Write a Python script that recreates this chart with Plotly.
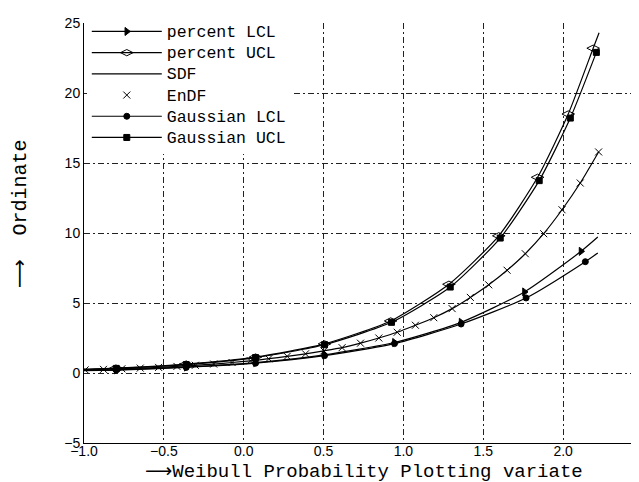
import plotly.graph_objects as go

# ---- data ----
endf_x = [-0.993, -0.878, -0.763, -0.648, -0.533, -0.418, -0.303, -0.188, -0.073,
          0.042, 0.157, 0.272, 0.387, 0.502, 0.616, 0.731, 0.846, 0.961, 1.075,
          1.190, 1.305, 1.419, 1.534, 1.649, 1.763, 1.878, 1.993, 2.107, 2.222]
endf_y = [0.22, 0.26, 0.30, 0.35, 0.40, 0.47, 0.55, 0.64, 0.75,
          0.87, 1.02, 1.19, 1.37, 1.58, 1.81, 2.13, 2.50, 2.91, 3.41,
          3.95, 4.60, 5.40, 6.30, 7.34, 8.52, 9.95, 11.66, 13.57, 15.79]

sdf_x = [-1.0] + endf_x[1:]
sdf_y = [0.21] + endf_y[1:]

pucl_x = [-1.0, -0.80, -0.36, 0.074, 0.506, 0.92, 1.285, 1.597, 1.84, 2.032, 2.188, 2.225]
pucl_y = [0.27, 0.35, 0.64, 1.14, 2.08, 3.72, 6.34, 9.80, 13.98, 18.50, 23.20, 24.30]
pucl_marked = [1, 2, 3, 4, 5, 6, 7, 8, 9, 10]

gucl_x = [-1.0, -0.798, -0.36, 0.074, 0.506, 0.925, 1.293, 1.606, 1.85, 2.045, 2.208]
gucl_y = [0.25, 0.33, 0.60, 1.10, 2.02, 3.62, 6.14, 9.64, 13.74, 18.21, 22.90]
gucl_marked = [1, 2, 3, 4, 5, 6, 7, 8, 9, 10]

plcl_x = [-1.0, -0.798, -0.36, 0.074, 0.506, 0.944, 1.361, 1.758, 2.112, 2.217]
plcl_y = [0.18, 0.23, 0.43, 0.74, 1.30, 2.18, 3.62, 5.79, 8.69, 9.71]
plcl_marked = [1, 2, 3, 4, 5, 6, 7, 8]

glcl_x = [-1.0, -0.798, -0.36, 0.074, 0.506, 0.944, 1.361, 1.768, 2.139, 2.217]
glcl_y = [0.16, 0.21, 0.40, 0.70, 1.24, 2.10, 3.50, 5.36, 7.95, 8.57]
glcl_marked = [1, 2, 3, 4, 5, 6, 7, 8]

x_ticks = [-1.0, -0.5, 0.0, 0.5, 1.0, 1.5, 2.0, 2.5]
y_ticks = [-5, 0, 5, 10, 15, 20, 25]

ARROW = '<span style="font-family:\'DejaVu Sans\'">\u27f6</span>'
x_title = ARROW + "Weibull Probability Plotting variate"
y_title = ARROW + "\u00a0 Ordinate"

MONO = "Liberation Mono, Courier New, monospace"
LINE = dict(color="black", width=1.2, shape="spline", smoothing=0.6)


def legend_name(text):
    return '<span style="font-size:16.5px">' + text + "</span>"


def series(name, xs, ys, marked, symbol, size):
    return go.Scatter(
        x=xs, y=ys, name=legend_name(name), mode="lines+markers", line=LINE,
        marker=dict(symbol=symbol, size=size, color="black",
                    line=dict(color="black", width=1)),
        selectedpoints=marked,
        selected=dict(marker=dict(opacity=1)),
        unselected=dict(marker=dict(opacity=0)),
    )


fig = go.Figure()
fig.add_trace(series("percent LCL", plcl_x, plcl_y, plcl_marked, "triangle-right", 7))
fig.add_trace(series("percent UCL", pucl_x, pucl_y, pucl_marked, "diamond-wide-open", 9))
fig.add_trace(go.Scatter(x=sdf_x, y=sdf_y, name=legend_name("SDF"), mode="lines", line=LINE))
fig.add_trace(go.Scatter(x=endf_x, y=endf_y, name=legend_name("EnDF"), mode="markers",
                         marker=dict(symbol="x-thin-open", size=7, color="black",
                                     line=dict(color="black", width=1))))
fig.add_trace(series("Gaussian LCL", glcl_x, glcl_y, glcl_marked, "circle", 6))
fig.add_trace(series("Gaussian UCL", gucl_x, gucl_y, gucl_marked, "square", 6))

GRID = dict(showgrid=True, gridcolor="#222222", gridwidth=1, griddash="6px,3px,2px,3px",
            zeroline=False, showline=True, linecolor="black", linewidth=1,
            ticks="", tickfont=dict(family="Liberation Sans, Arial", size=14, color="black"))

fig.update_layout(
    width=639, height=482,
    margin=dict(l=76, r=4, t=15, b=47),
    paper_bgcolor="white", plot_bgcolor="white",
    showlegend=True,
    legend=dict(x=0.005, y=1.017, xanchor="left", yanchor="top",
                bgcolor="white", borderwidth=0, itemwidth=70,
                tracegroupgap=0,
                font=dict(family=MONO, size=14, color="black")),
    xaxis=dict(range=[-1.0, 2.5], tickvals=x_ticks, tickformat=".1f",
               ticklabelstandoff=-5, **GRID),
    yaxis=dict(range=[-5, 25], tickvals=y_ticks, **GRID),
    annotations=[
        dict(text=x_title, xref="paper", yref="paper", x=0.501, y=-0.067,
             xanchor="center", yanchor="middle", showarrow=False,
             font=dict(family=MONO, size=19, color="black")),
        dict(text=y_title, xref="paper", yref="paper", x=0, y=0.545,
             xshift=-65, xanchor="center", yanchor="middle", showarrow=False,
             textangle=-90, font=dict(family=MONO, size=20, color="black")),
    ],
)

fig.write_html("out.html")
